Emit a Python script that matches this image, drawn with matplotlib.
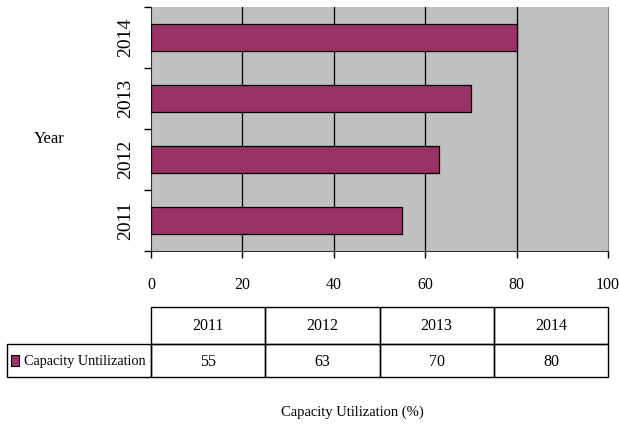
import matplotlib
matplotlib.use("Agg")
import matplotlib.pyplot as plt
from matplotlib.patches import Rectangle

years = ["2011", "2012", "2013", "2014"]
capacity = [55, 63, 70, 80]
series_name = "Capacity Untilization"
x_ticks = [0, 20, 40, 60, 80, 100]

bar_color = "#993366"
bg_color = "#C0C0C0"

plt.rcParams["font.family"] = ["Liberation Serif", "DejaVu Serif"]

W, H = 619, 426
fig = plt.figure(figsize=(W / 100, H / 100), dpi=100)

# plot area, in pixel units of the reference
L, R, T, B = 151, 608, 7, 251
ax = fig.add_axes([L / W, 1 - B / H, (R - L) / W, (B - T) / H])
ax.set_facecolor(bg_color)

pos = list(range(len(years)))
ax.barh(pos, capacity, height=0.43, color=bar_color, edgecolor="black",
        linewidth=0.9, zorder=3)

ax.set_xlim(0, 100)
ax.set_ylim(-0.5, len(years) - 0.5)
ax.set_xticks(x_ticks)
ax.set_xticklabels([str(t) for t in x_ticks], fontsize=11.5)
ax.tick_params(axis="x", direction="out", length=5, width=1, pad=14)
for x in x_ticks[1:-1]:
    ax.axvline(x, color="black", linewidth=0.9, zorder=1)

# category boundaries as major ticks, labels on minor ticks
ax.set_yticks([p - 0.5 for p in pos] + [pos[-1] + 0.5])
ax.set_yticklabels([])
ax.tick_params(axis="y", which="major", direction="out", length=5, width=1)
ax.set_yticks(pos, minor=True)
ax.set_yticklabels(years, minor=True, rotation=90, va="center", fontsize=14)
ax.tick_params(axis="y", which="minor", length=0, pad=12)

ax.spines["top"].set_visible(False)
ax.spines["right"].set_color("#808080")
ax.spines["left"].set_color("#303030")
ax.spines["bottom"].set_color("#303030")

fig.text(49 / W, 1 - 139 / H, "Year", ha="center", va="center", fontsize=12)

# data table under the chart, drawn in pixel units
TL, TR, TT, TM, TB = 7, 608, 307, 344, 377
tax = fig.add_axes([0, 0, 1, 1])
tax.set_xlim(0, W)
tax.set_ylim(H, 0)
tax.axis("off")
col_w = (TR - L) / len(years)


def cell(x0, y0, w, h, text, ha="center", xt=None, size=11.5):
    tax.add_patch(Rectangle((x0, y0), w, h, facecolor="none",
                            edgecolor="black", linewidth=1))
    if xt is None:
        xt = x0 + w / 2
    tax.text(xt, y0 + h / 2 + 1, text, ha=ha, va="center", fontsize=size)


for j, yr in enumerate(years):
    cell(L + j * col_w, TT, col_w, TM - TT, yr)
    cell(L + j * col_w, TM, col_w, TB - TM, str(capacity[j]))
cell(TL, TM, L - TL, TB - TM, series_name, ha="left", xt=TL + 17, size=10.3)

# legend key in the row label
tax.add_patch(Rectangle((11, 355), 8, 11, facecolor=bar_color,
                        edgecolor="black", linewidth=0.8))

fig.text(352 / W, 1 - 412 / H, "Capacity Utilization (%)", ha="center",
         va="center", fontsize=10.5)

fig.savefig("out.png", dpi=100)
